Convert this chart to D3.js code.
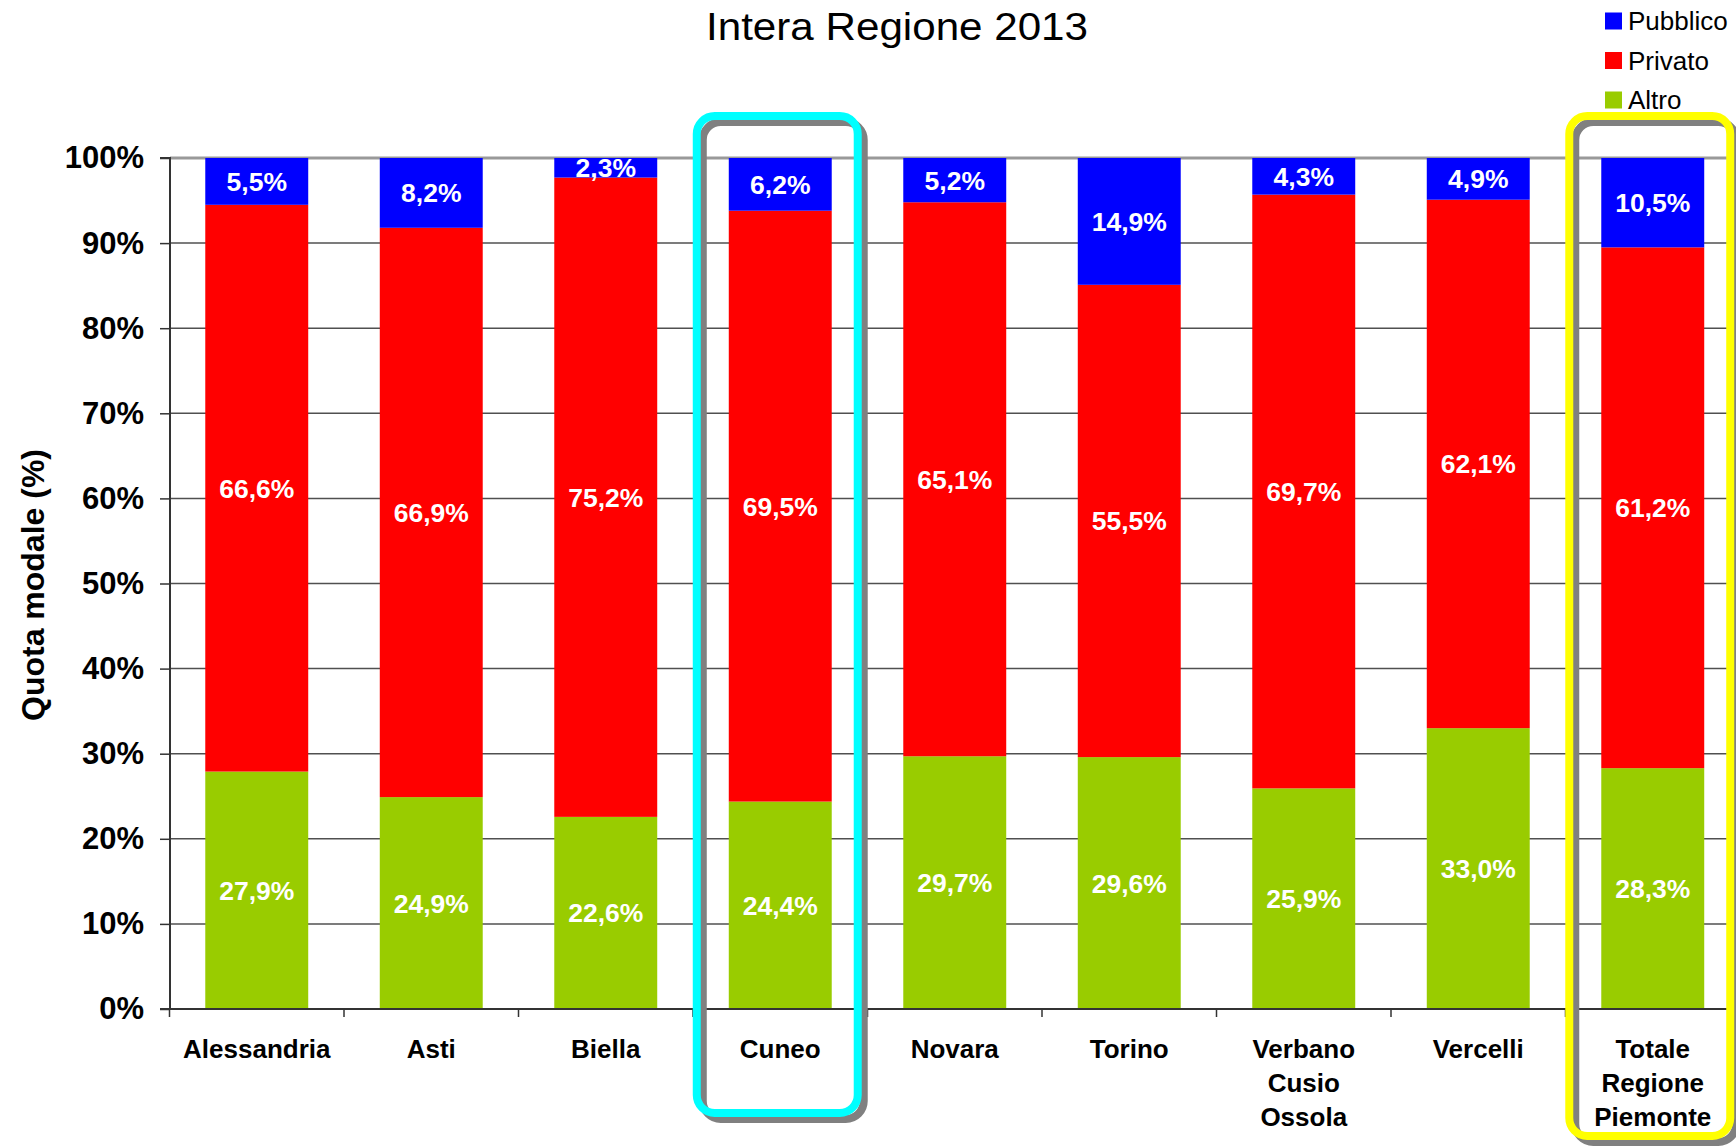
<!DOCTYPE html>
<html>
<head>
<meta charset="utf-8">
<script src="https://cdn.jsdelivr.net/npm/d3@7"></script>
<style>
  html, body { margin: 0; padding: 0; background: #fff; }
  svg { display: block; font-family: "Liberation Sans", Arial, sans-serif; }
</style>
</head>
<body>
<svg id="chart" width="1736" height="1146"></svg>
<script>
const categories = ["Alessandria", "Asti", "Biella", "Cuneo", "Novara", "Torino", "Verbano\nCusio\nOssola", "Vercelli", "Totale\nRegione\nPiemonte"];
const seriesNames = ["Altro", "Privato", "Pubblico"];
const altro    = [27.9, 24.9, 22.6, 24.4, 29.7, 29.6, 25.9, 33.0, 28.3];
const privato  = [66.6, 66.9, 75.2, 69.5, 65.1, 55.5, 69.7, 62.1, 61.2];
const pubblico = [5.5, 8.2, 2.3, 6.2, 5.2, 14.9, 4.3, 4.9, 10.5];
const yTicks = [0, 0.1, 0.2, 0.3, 0.4, 0.5, 0.6, 0.7, 0.8, 0.9, 1.0];
const legendOrder = ["Pubblico", "Privato", "Altro"];
const colors = { Altro: "#99CC00", Privato: "#FF0000", Pubblico: "#0000FF" };
const highlights = [
  { cat: "Cuneo", color: "#00FFFF", lines: 1 },
  { cat: "Totale\nRegione\nPiemonte", color: "#FFFF00", lines: 3 }
];
const chartTitle = "Intera Regione 2013";
const yTitle = "Quota modale (%)";

(function () {
const svg = d3.select("#chart");
const pLeft = 170, pRight = 1736, pTop = 158, pBottom = 1009;

const x = d3.scaleBand().domain(categories).range([169.5, 1740]).paddingInner(0.41).paddingOuter(0.205);
const y = d3.scaleLinear().domain([0, 1]).range([pBottom, pTop]);

// data rows normalized (100% stacked)
const rows = categories.map((c, i) => {
  const tot = altro[i] + privato[i] + pubblico[i];
  return { cat: c, Altro: altro[i] / tot, Privato: privato[i] / tot, Pubblico: pubblico[i] / tot,
           raw: { Altro: altro[i], Privato: privato[i], Pubblico: pubblico[i] } };
});
const stack = d3.stack().keys(seriesNames)(rows);

// gridlines
svg.append("g").selectAll("line").data(yTicks.filter(t => t > 0 && t < 1)).join("line")
  .attr("x1", pLeft).attr("x2", pRight)
  .attr("y1", d => y(d)).attr("y2", d => y(d))
  .attr("stroke", "#505050").attr("stroke-width", 1.5);
svg.append("line").attr("x1", pLeft).attr("x2", pRight)
  .attr("y1", y(1)).attr("y2", y(1))
  .attr("stroke", "#999").attr("stroke-width", 3);

// bars
const fmt = v => v.toFixed(1).replace(".", ",") + "%";
stack.forEach(s => {
  const g = svg.append("g");
  g.selectAll("rect").data(s).join("rect")
    .attr("x", d => x(d.data.cat))
    .attr("width", x.bandwidth())
    .attr("y", d => y(d[1]))
    .attr("height", d => y(d[0]) - y(d[1]))
    .attr("fill", colors[s.key]);
  g.selectAll("text").data(s).join("text")
    .attr("x", d => x(d.data.cat) + x.bandwidth() / 2)
    .attr("y", d => (y(d[0]) + y(d[1])) / 2)
    .attr("dy", "0.36em")
    .attr("text-anchor", "middle")
    .attr("fill", "#fff")
    .attr("font-weight", "bold")
    .attr("font-size", 26.5)
    .text(d => fmt(d.data.raw[s.key]));
});

// y axis
const yAxis = d3.axisLeft(y).tickValues(yTicks).tickFormat(d => Math.round(d * 100) + "%").tickSize(10).tickPadding(16);
const yg = svg.append("g").attr("transform", `translate(${pLeft},0)`).call(yAxis);
yg.select(".domain").attr("stroke", "#333").attr("stroke-width", 2).attr("d", `M-10,${y(1)}H0V${pBottom}`);
yg.selectAll(".tick line").attr("stroke", "#333").attr("stroke-width", 1.5);
yg.selectAll(".tick text").attr("font-size", 31).attr("font-weight", "bold").attr("fill", "#000")
  .attr("font-family", "Liberation Sans, Arial, sans-serif");

// x axis
svg.append("line").attr("x1", pLeft - 10).attr("x2", pRight).attr("y1", pBottom).attr("y2", pBottom)
  .attr("stroke", "#333").attr("stroke-width", 2);
const boundaries = categories.map(c => x(c) - (x.step() - x.bandwidth()) / 2);
svg.append("g").selectAll("line").data(boundaries).join("line")
  .attr("x1", d => d).attr("x2", d => d).attr("y1", pBottom).attr("y2", pBottom + 8)
  .attr("stroke", "#333").attr("stroke-width", 1.5);
const xl = svg.append("g").selectAll("text").data(categories).join("text")
  .attr("x", d => x(d) + x.bandwidth() / 2)
  .attr("y", pBottom + 49)
  .attr("text-anchor", "middle")
  .attr("font-size", 26).attr("font-weight", "bold").attr("fill", "#000");
xl.each(function(d) {
  const t = d3.select(this);
  d.split("\n").forEach((line, i) => {
    t.append("tspan").attr("x", x(d) + x.bandwidth() / 2).attr("dy", i === 0 ? 0 : 34).text(line);
  });
});

// highlight boxes
highlights.forEach(h => {
  const bx = x(h.cat) - 32, bw = x.bandwidth() + 58;
  const by = y(1) - 42;
  const bh = (pBottom + 104 + (h.lines - 1) * 11.5) - by;
  svg.append("rect").attr("x", bx + 6).attr("y", by + 6).attr("width", bw).attr("height", bh)
    .attr("rx", 18).attr("fill", "none").attr("stroke", "#808080").attr("stroke-width", 8);
  svg.append("rect").attr("x", bx).attr("y", by).attr("width", bw).attr("height", bh)
    .attr("rx", 18).attr("fill", "none").attr("stroke", h.color).attr("stroke-width", 8);
});

// title
svg.append("text").attr("x", 897).attr("y", 40).attr("text-anchor", "middle")
  .attr("font-size", 38).attr("fill", "#000")
  .attr("textLength", 382).attr("lengthAdjust", "spacingAndGlyphs")
  .text(chartTitle);

// y title
svg.append("text").attr("transform", `translate(44,585) rotate(-90)`)
  .attr("text-anchor", "middle").attr("font-size", 32).attr("font-weight", "bold").attr("fill", "#000")
  .text(yTitle);

// legend
const lg = svg.append("g").selectAll("g").data(legendOrder).join("g")
  .attr("transform", (d, i) => `translate(1605,${21 + i * 39.5})`);
lg.append("rect").attr("x", 0).attr("y", -8.5).attr("width", 17).attr("height", 17).attr("fill", d => colors[d]);
lg.append("text").attr("x", 23).attr("y", 9).attr("font-size", 26).attr("fill", "#000").text(d => d);
})();
</script>
</body>
</html>
